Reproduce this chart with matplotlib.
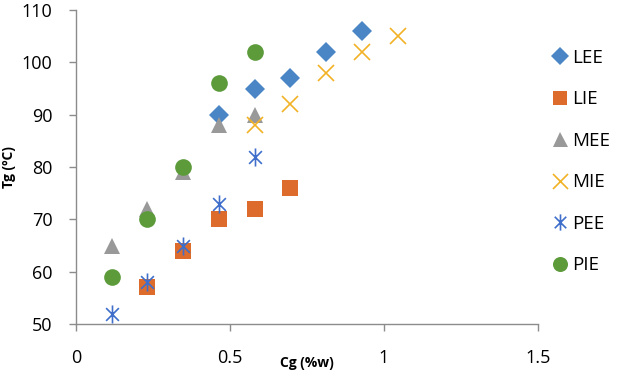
import numpy as np
import matplotlib
matplotlib.use('Agg')
import matplotlib.pyplot as plt
from matplotlib.path import Path

# Cg (%w) values and Tg (degC) for each series
lee_x = [0.464, 0.58, 0.696, 0.812, 0.928]
lee_y = [90, 95, 97, 102, 106]
lie_x = [0.232, 0.348, 0.464, 0.58, 0.696]
lie_y = [57, 64, 70, 72, 76]
mee_x = [0.116, 0.232, 0.348, 0.464, 0.58]
mee_y = [65, 72, 79, 88, 90]
mie_x = [0.58, 0.696, 0.812, 0.928, 1.044]
mie_y = [88, 92, 98, 102, 105]
pee_x = [0.116, 0.232, 0.348, 0.464, 0.58]
pee_y = [52, 58, 65, 73, 82]
pie_x = [0.116, 0.232, 0.348, 0.464, 0.58]
pie_y = [59, 70, 80, 96, 102]

x_ticks = [0, 0.5, 1, 1.5]
x_tick_labels = ['0', '0.5', '1', '1.5']
y_ticks = [50, 60, 70, 80, 90, 100, 110]

plt.rcParams['font.family'] = ['Open Sans', 'DejaVu Sans']

# excel style asterisk: an x with a vertical bar
d = 0.7071
star = Path([(-d, -d), (d, d), (-d, d), (d, -d), (0, -1), (0, 1)],
            [Path.MOVETO, Path.LINETO, Path.MOVETO, Path.LINETO,
             Path.MOVETO, Path.LINETO])

fig = plt.figure(figsize=(6.17, 3.76), dpi=100)
ax = fig.add_axes([0.123, 0.138, 0.749, 0.835])

ax.plot(lee_x, lee_y, 'D', color='#4A86C6', ms=10.5, mew=0, label='LEE', clip_on=False)
ax.plot(lie_x, lie_y, 's', color='#DD6C2C', ms=11.5, mew=0, label='LIE', clip_on=False)
ax.plot(mee_x, mee_y, '^', color='#999999', ms=12, mew=0, label='MEE', clip_on=False)
ax.plot(mie_x, mie_y, 'x', color='#F2B225', ms=12, mew=1.2, label='MIE', clip_on=False)
ax.plot(pee_x, pee_y, marker=star, ls='none', color='#3F6FCB', ms=13, mew=1.2,
        mfc='none', label='PEE', clip_on=False)
ax.plot(pie_x, pie_y, 'o', color='#5C9A3A', ms=12, mew=0, label='PIE', clip_on=False)

ax.set_xlim(0, 1.5)
ax.set_ylim(50, 110)
ax.set_xticks(x_ticks)
ax.set_xticklabels(x_tick_labels)
ax.set_yticks(y_ticks)

for s in ['top', 'right']:
    ax.spines[s].set_visible(False)
for s in ['left', 'bottom']:
    ax.spines[s].set_color('#8C8C8C')
    ax.spines[s].set_linewidth(1.0)

ax.tick_params(axis='both', colors='#8C8C8C', labelcolor='black', labelsize=13,
               length=5, width=1.0, direction='out')
ax.tick_params(axis='y', pad=12)
ax.tick_params(axis='x', pad=13)

ax.set_xlabel('Cg (%w)', fontsize=10, fontweight='bold', labelpad=-8)
ax.set_ylabel('Tg (ºC)', fontsize=10, fontweight='bold', labelpad=4)

ax.legend(loc='upper left', bbox_to_anchor=(1.013, 0.90), frameon=False,
          fontsize=13.5, handlelength=0.9, handletextpad=0.2,
          labelspacing=1.25, borderaxespad=0, markerscale=0.9)

fig.savefig('out.png', dpi=100)
